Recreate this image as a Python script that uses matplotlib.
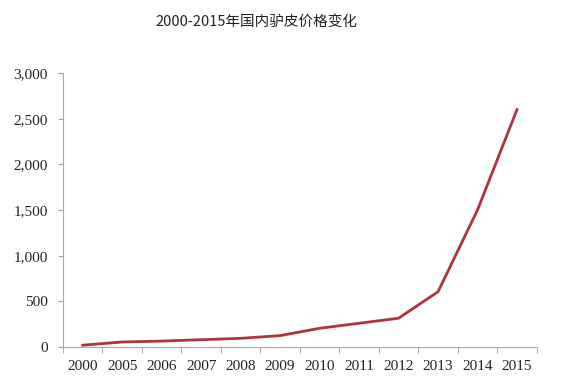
import matplotlib
matplotlib.use("Agg")
import matplotlib.pyplot as plt
import numpy as np
from matplotlib.ticker import FuncFormatter, FixedLocator

years = ["2000", "2005", "2006", "2007", "2008", "2009", "2010", "2011", "2012", "2013", "2014", "2015"]
prices = [20, 55, 65, 80, 95, 125, 205, 260, 315, 605, 1500, 2600]
title = "2000-2015年国内驴皮价格变化"

fig = plt.figure(figsize=(5.62, 3.91), dpi=100)
ax = fig.add_axes([0.112, 0.1125, 0.843, 0.7005])

x = np.arange(len(years))
ax.plot(x, prices, color="#B0333A", linewidth=2.0)

ax.set_xlim(-0.5, len(years) - 0.5)
ax.set_ylim(0, 3000)
ax.set_yticks(np.arange(0, 3001, 500))
ax.yaxis.set_major_formatter(FuncFormatter(lambda v, p: f"{int(v):,}"))

ax.set_xticks(x)
ax.set_xticklabels(years)
ax.xaxis.set_minor_locator(FixedLocator(np.arange(-0.5, len(years), 1.0)))
ax.tick_params(axis="x", which="major", length=0, pad=9)
ax.tick_params(axis="x", which="minor", length=4, color="#A0A0A0", direction="out")
ax.tick_params(axis="y", length=3.5, color="#A0A0A0", direction="out", pad=7.5)

for lab in ax.get_xticklabels() + ax.get_yticklabels():
    lab.set_fontfamily("Liberation Serif")
    lab.set_fontsize(11)
    lab.set_color("#222222")

for s in ["top", "right"]:
    ax.spines[s].set_visible(False)
for s in ["left", "bottom"]:
    ax.spines[s].set_color("#A8A8A8")
    ax.spines[s].set_linewidth(0.8)

fig.text(0.457, 0.944, title, ha="center", va="center", fontsize=10.5,
         family=["Noto Sans CJK SC", "DejaVu Sans"], color="#222222")

fig.savefig("out.png", dpi=100)
